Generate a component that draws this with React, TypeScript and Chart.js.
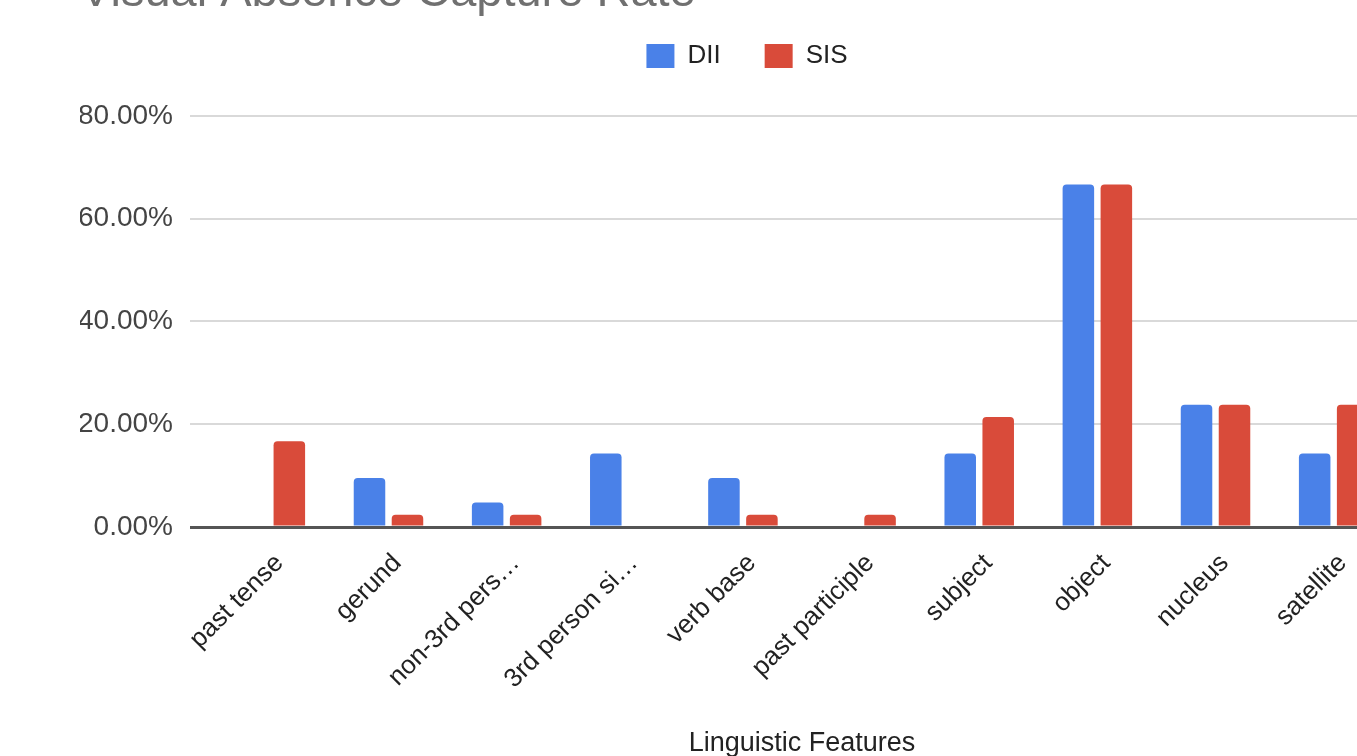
import React, { useEffect, useRef } from 'react';
import { Chart, registerables } from 'chart.js';

Chart.register(...registerables);

const TITLE = 'Visual Absence Capture Rate';
const X_TITLE = 'Linguistic Features';
const CATEGORIES = [
  'past tense',
  'gerund',
  'non-3rd pers…',
  '3rd person si…',
  'verb base',
  'past participle',
  'subject',
  'object',
  'nucleus',
  'satellite',
];
const SERIES_NAMES = ['DII', 'SIS'];
const DII = [0, 9.52, 4.76, 14.29, 9.52, 0, 14.29, 66.67, 23.81, 14.29];
const SIS = [16.67, 2.38, 2.38, 0, 2.38, 2.38, 21.43, 66.67, 23.81, 23.81];
const Y_TICKS = [0, 20, 40, 60, 80];

const BLUE = '#4a81e8';
const RED = '#d94b3a';
const FONT = "'Liberation Sans', Arial, Helvetica, sans-serif";

export default function App() {
  const ref = useRef<HTMLCanvasElement>(null);

  useEffect(() => {
    if (!ref.current) return;
    Chart.defaults.font.family = FONT;
    const barStyle = {
      borderWidth: 0,
      borderRadius: 4,
      borderSkipped: 'start' as const,
      barPercentage: 0.83,
      categoryPercentage: 0.643,
    };
    const chart = new Chart(ref.current, {
      type: 'bar',
      data: {
        datasets: [
          {
            label: SERIES_NAMES[0],
            data: DII.map((y, x) => ({ x, y })),
            backgroundColor: BLUE,
            ...barStyle,
          },
          {
            label: SERIES_NAMES[1],
            data: SIS.map((y, x) => ({ x, y })),
            backgroundColor: RED,
            ...barStyle,
          },
        ],
      },
      options: {
        responsive: false,
        animation: false,
        layout: { padding: { left: 80, right: 26, top: 0, bottom: 0 } },
        plugins: {
          tooltip: { enabled: false },
          title: {
            display: true,
            text: TITLE,
            align: 'start',
            color: '#707070',
            font: { size: 47, lineHeight: '12px', weight: 'normal' },
            padding: { top: 27, bottom: 0 },
          },
          legend: {
            display: true,
            position: 'top',
            align: 'center',
            labels: {
              color: '#222222',
              font: { size: 26 },
              boxWidth: 28,
              boxHeight: 24,
              padding: 44,
            },
          },
        },
        scales: {
          x: {
            type: 'linear',
            offset: false,
            min: -0.68,
            max: CATEGORIES.length - 1 + 0.68,
            grid: { display: false, offset: false },
            border: { display: false },
            afterBuildTicks: (s: any) => {
              s.ticks = CATEGORIES.map((_, i) => ({ value: i }));
            },
            afterFit: (s: any) => {
              s.height = 233;
            },
            ticks: {
              autoSkip: false,
              minRotation: 45,
              maxRotation: 45,
              padding: 13,
              labelOffset: 9,
              color: '#222222',
              font: { size: 26 },
              callback: (v: any) => CATEGORIES[Number(v)] ?? '',
            },
            title: {
              display: true,
              text: X_TITLE,
              color: '#222222',
              font: { size: 27 },
              padding: 0,
            },
          },
          y: {
            min: 0,
            max: 87.2,
            afterBuildTicks: (s: any) => {
              s.ticks = Y_TICKS.map((v) => ({ value: v }));
            },
            afterFit: (s: any) => {
              s.width = 110;
            },
            ticks: {
              padding: 17,
              color: '#444444',
              font: { size: 28 },
              callback: (v: any) => Number(v).toFixed(2) + '%',
            },
            grid: {
              drawTicks: false,
              color: (c: any) => (c.tick && c.tick.value === 0 ? '#555555' : '#d9d9d9'),
              lineWidth: (c: any) => (c.tick && c.tick.value === 0 ? 3 : 2),
            },
            border: { display: false },
          },
        },
      },
    });
    return () => chart.destroy();
  }, []);

  return (
    <div
      style={{
        position: 'fixed',
        left: 0,
        top: 0,
        width: 1357,
        height: 756,
        overflow: 'hidden',
        background: '#ffffff',
      }}
    >
      <canvas
        ref={ref}
        width={1440}
        height={800}
        style={{ position: 'absolute', left: 0, top: -40, width: 1440, height: 800, display: 'block' }}
      />
    </div>
  );
}
